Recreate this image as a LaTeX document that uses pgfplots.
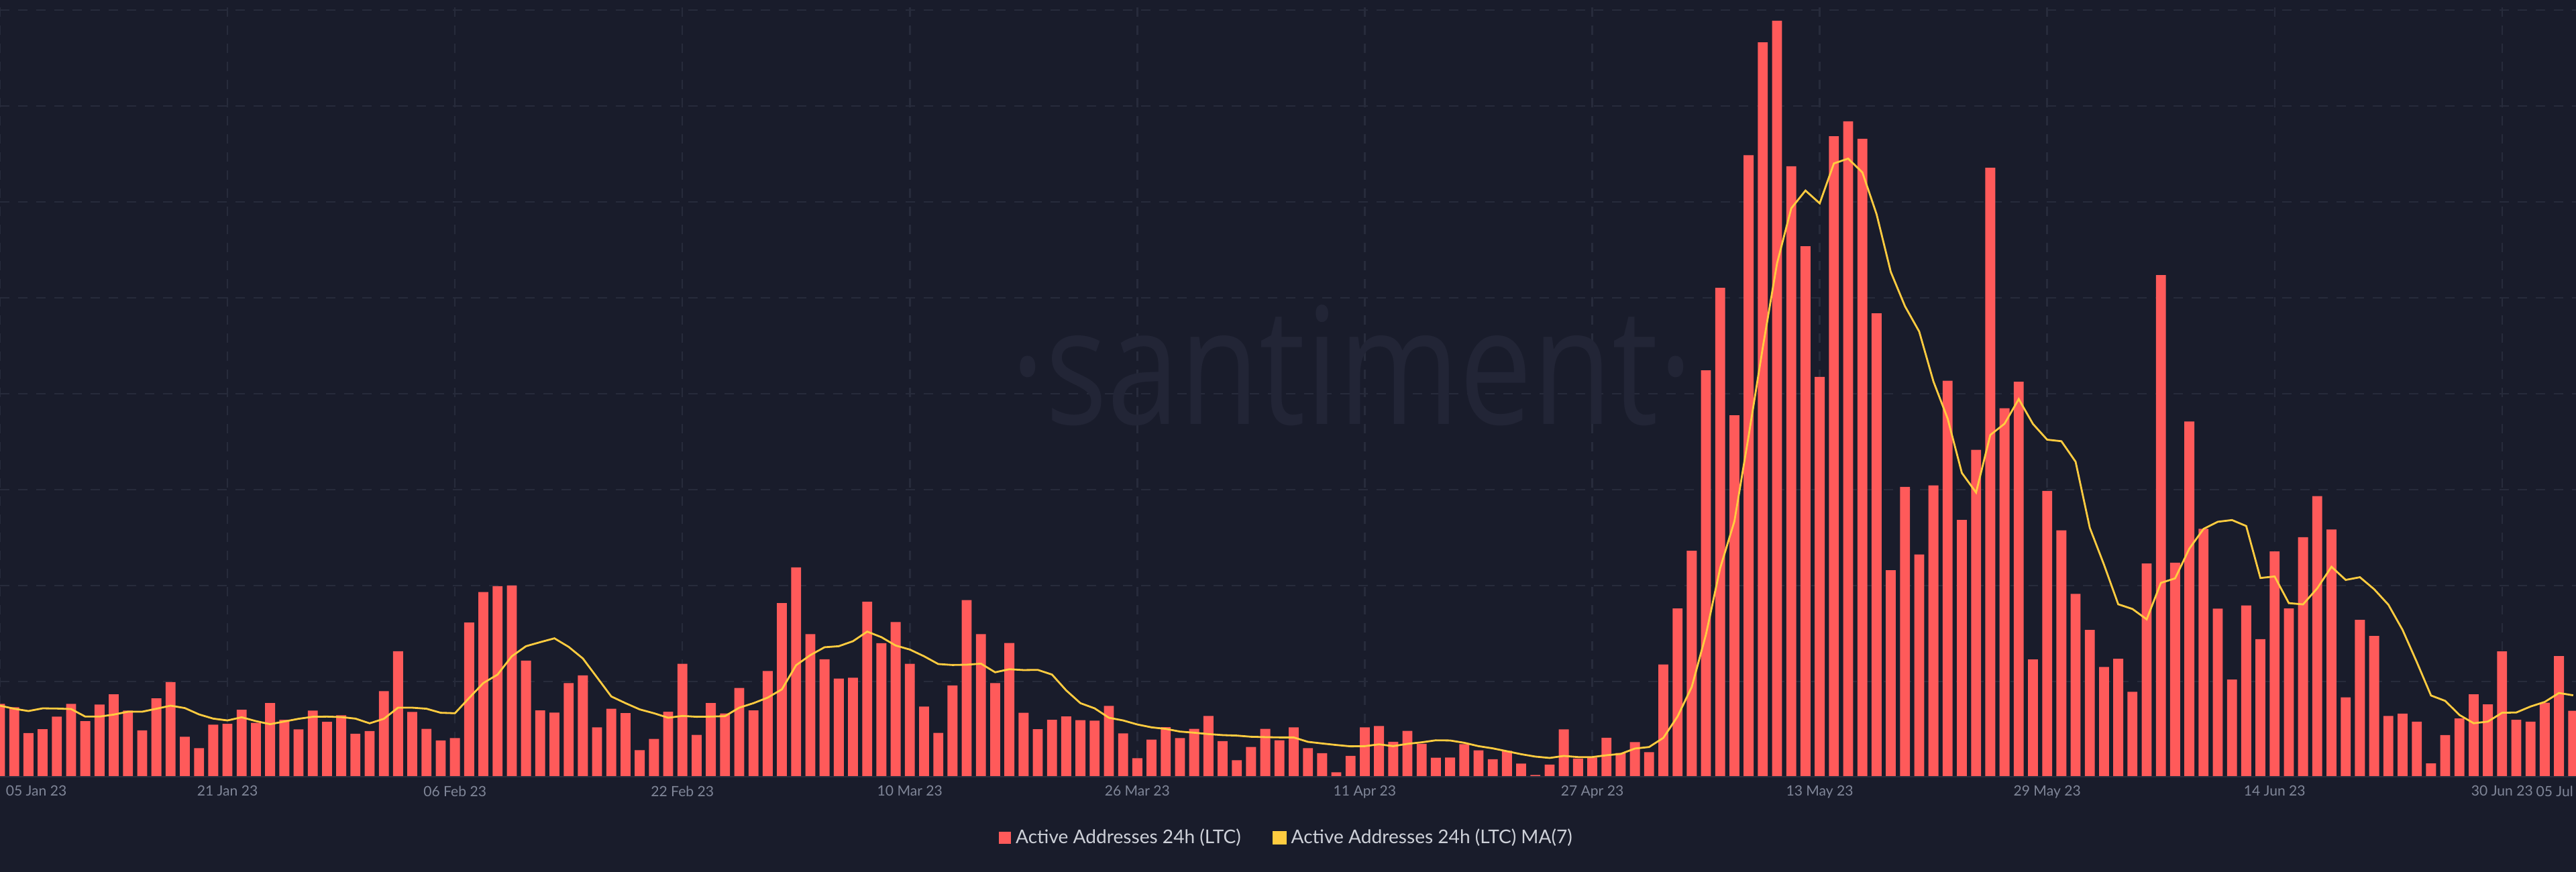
\documentclass[border=0pt]{standalone}
\usepackage{pgfplots}
\pgfplotsset{compat=1.18}
\usepackage{pgfplotstable}
\usepackage{fontspec}
\setmainfont{Lato}
\newfontfamily\wmfont{Open Sans}

\definecolor{bg}{RGB}{25,28,43}
\definecolor{gridcol}{RGB}{39,43,59}
\definecolor{basecol}{RGB}{44,48,64}
\definecolor{wmcol}{RGB}{34,37,54}
\definecolor{barcol}{RGB}{255,90,90}
\definecolor{linecol}{RGB}{255,204,64}
\definecolor{tickcol}{RGB}{128,134,152}
\definecolor{legcol}{RGB}{205,208,216}

% day (0 = 05 Jan 23), active addresses, 7-day MA (grid step = 1)
\pgfplotstableread{
d v ma
0 0.767 0.748
1 0.732 0.716
2 0.462 0.692
3 0.503 0.720
4 0.634 0.718
5 0.767 0.713
6 0.587 0.634
7 0.760 0.634
8 0.867 0.655
9 0.697 0.685
10 0.490 0.685
11 0.825 0.716
12 0.993 0.748
13 0.424 0.723
14 0.305 0.657
15 0.550 0.613
16 0.559 0.594
17 0.706 0.627
18 0.569 0.587
19 0.776 0.555
20 0.601 0.583
21 0.501 0.611
22 0.697 0.632
23 0.580 0.634
24 0.648 0.629
25 0.455 0.613
26 0.483 0.564
27 0.900 0.611
28 1.315 0.727
29 0.683 0.727
30 0.506 0.716
31 0.385 0.674
32 0.410 0.669
33 1.615 0.828
34 1.932 0.984
35 1.993 1.072
36 2.000 1.263
37 1.217 1.368
38 0.699 1.410
39 0.676 1.450
40 0.984 1.361
41 1.063 1.240
42 0.522 1.042
43 0.716 0.844
44 0.671 0.774
45 0.284 0.709
46 0.401 0.669
47 0.685 0.622
48 1.184 0.641
49 0.443 0.632
50 0.776 0.634
51 0.667 0.639
52 0.932 0.727
53 0.699 0.774
54 1.110 0.832
55 1.818 0.918
56 2.189 1.170
57 1.494 1.275
58 1.231 1.357
59 1.030 1.368
60 1.040 1.420
61 1.832 1.520
62 1.399 1.462
63 1.620 1.375
64 1.184 1.333
65 0.739 1.263
66 0.464 1.182
67 0.958 1.172
68 1.848 1.175
69 1.494 1.186
70 0.984 1.096
71 1.401 1.128
72 0.674 1.119
73 0.503 1.121
74 0.601 1.072
75 0.636 0.907
76 0.597 0.774
77 0.592 0.720
78 0.746 0.622
79 0.459 0.594
80 0.200 0.552
81 0.394 0.522
82 0.524 0.506
83 0.410 0.478
84 0.506 0.466
85 0.641 0.452
86 0.378 0.441
87 0.179 0.436
88 0.317 0.424
89 0.506 0.420
90 0.387 0.417
91 0.522 0.417
92 0.305 0.371
93 0.252 0.354
94 0.054 0.338
95 0.224 0.324
96 0.522 0.326
97 0.536 0.345
98 0.371 0.326
99 0.485 0.350
100 0.350 0.366
101 0.205 0.387
102 0.207 0.385
103 0.347 0.361
104 0.282 0.326
105 0.189 0.303
106 0.277 0.273
107 0.145 0.242
108 0.026 0.217
109 0.133 0.203
110 0.501 0.224
111 0.196 0.212
112 0.207 0.212
113 0.413 0.231
114 0.254 0.245
115 0.368 0.301
116 0.263 0.317
117 1.178 0.412
118 1.762 0.635
119 2.362 0.943
120 4.244 1.490
121 5.104 2.183
122 3.775 2.670
123 6.486 3.559
124 7.664 4.485
125 7.888 5.360
126 6.371 5.933
127 5.537 6.118
128 4.176 5.985
129 6.684 6.401
130 6.840 6.451
131 6.658 6.308
132 4.838 5.872
133 2.159 5.270
134 3.029 4.912
135 2.325 4.648
136 3.045 4.128
137 4.135 3.741
138 2.685 3.174
139 3.415 2.970
140 6.356 3.570
141 3.848 3.687
142 4.124 3.944
143 1.230 3.685
144 2.987 3.521
145 2.576 3.505
146 1.913 3.291
147 1.538 2.602
148 1.152 2.217
149 1.236 1.805
150 0.892 1.756
151 2.230 1.648
152 5.236 2.028
153 2.238 2.075
154 3.711 2.385
155 2.592 2.591
156 1.759 2.665
157 1.020 2.683
158 1.792 2.621
159 1.441 2.079
160 2.355 2.095
161 1.762 1.817
162 2.505 1.804
163 2.932 1.972
164 2.585 2.196
165 0.834 2.059
166 1.642 2.087
167 1.474 1.962
168 0.640 1.801
169 0.665 1.538
170 0.581 1.203
171 0.146 0.854
172 0.442 0.798
173 0.614 0.651
174 0.867 0.565
175 0.761 0.582
176 1.313 0.674
177 0.600 0.677
178 0.581 0.739
179 0.779 0.787
180 1.265 0.880
181 0.695 0.856
}\ltc

\begin{document}
\begin{tikzpicture}
\fill[bg] (0,-1.41) rectangle (38.4,11.59);
\begin{axis}[
    at={(0,0)}, anchor=south west,
    scale only axis,
    width=38.4cm, height=11.59cm,
    xmin=0, xmax=181.2,
    ymin=0, ymax=8.105,
    axis line style={draw=none},
    major tick length=0pt,
    xtick={0,16,...,176},
    xticklabels={,21 Jan 23,06 Feb 23,22 Feb 23,10 Mar 23,26 Mar 23,11 Apr 23,27 Apr 23,13 May 23,29 May 23,14 Jun 23,30 Jun 23},
    extra x ticks={2.55,179.7},
    extra x tick labels={05 Jan 23,05 Jul},
    extra x tick style={grid=none},
    ytick={1,...,8},
    ymajorticks=false,
    grid=major,
    grid style={gridcol, line width=0.7pt, dash pattern=on 0.14cm off 0.13cm},
    xticklabel style={font=\fontsize{6}{7}\selectfont, text=tickcol, anchor=north, inner sep=0pt, yshift=-0.12cm},
    legend style={at={(0.5,-0.0777)}, anchor=center, draw=none, fill=none,
        text=legcol, font=\fontsize{8}{9}\selectfont, legend columns=2,
        /tikz/every even column/.append style={column sep=0.4cm}},
]
\node[wmcol, anchor=base, xscale=0.8] at (axis cs:95.1,3.685)
    {\wmfont\fontsize{69}{69}\selectfont ·santiment·};

\addplot[ybar, bar width=0.7, fill=barcol, draw=none,
    legend image code/.code={\fill[barcol] (0cm,-0.09cm) rectangle (0.18cm,0.09cm);}]
    table[x=d, y=v] {\ltc};
\addlegendentry{Active Addresses 24h (LTC)}

\addplot[linecol, line width=0.8pt, mark=none,
    legend image code/.code={\fill[linecol] (0cm,-0.09cm) rectangle (0.18cm,0.09cm);}]
    table[x=d, y=ma] {\ltc};
\addlegendentry{Active Addresses 24h (LTC) MA(7)}

\draw[basecol, line width=1.2pt] (rel axis cs:0,0) -- (rel axis cs:1,0);
\end{axis}
\pgfresetboundingbox
\useasboundingbox (0,-1.41) rectangle (38.4,11.59);
\end{tikzpicture}
\end{document}
